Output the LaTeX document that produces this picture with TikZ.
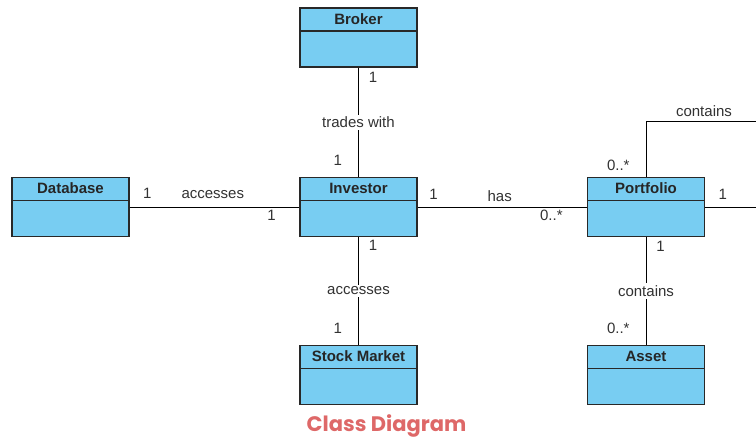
\documentclass[tikz,border=0pt]{standalone}
\usepackage{fontspec}
\setmainfont{Liberation Sans}
\newfontfamily\titlefont{Poppins}
\definecolor{clsfill}{RGB}{120,205,242}
\definecolor{clsline}{RGB}{40,40,40}
\definecolor{lbltext}{RGB}{50,50,50}
\definecolor{titlered}{RGB}{222,104,104}
\tikzset{
  cls/.style={draw=clsline, fill=clsfill, line width=1.1pt, minimum width=117,
    minimum height=59, inner sep=0pt,
    label={[anchor=center, yshift=-11.5pt, font=\fontsize{15}{15}\selectfont\bfseries, text=black!85]north:#1},
    path picture={\draw[clsline, line width=1.1pt] ([yshift=-23pt]path picture bounding box.north west) -- ++(117,0);}},
  lbl/.style={font=\fontsize{15}{15}\selectfont, text=lbltext, inner sep=2pt},
  assoc/.style={draw=black, line width=0.9pt}
}
\begin{document}
\begin{tikzpicture}[x=1pt, y=-1pt]
    \useasboundingbox (0,0) rectangle (756,443);
    \node[cls=Broker] (A0_1) at (358.5,37.5) {};
    \node[cls=Database] (A1_0) at (70.5,207) {};
    \node[cls=Investor] (A1_1) at (358.5,207) {};
    \node[cls=Portfolio] (A1_2) at (646,207) {};
    \node[cls=Stock Market] (A2_1) at (358.5,375) {};
    \node[cls=Asset] (A2_2) at (646,375) {};
    \coordinate (E1) at (756,121);
    \coordinate (E2) at (756,207);
    \path (A0_1) edge [assoc] node [lbl, fill=white] {trades with} node [lbl, pos=0.09, right=8pt] {1} node [lbl, pos=0.85, left=14pt] {1} (A1_1);
    \path (A1_0) edge [assoc] node [lbl, pos=0.49, above=6pt] {accesses} node [lbl, pos=0.105, above=6pt] {1} node [lbl, pos=0.836, below=1pt] {1} (A1_1);
    \path (A1_1) edge [assoc] node [lbl, pos=0.485, above=3pt] {has} node [lbl, pos=0.094, above=5pt] {1} node [lbl, pos=0.79, below=1pt] {0..*} (A1_2);
    \path (A1_1) edge [assoc] node [lbl, fill=white] {accesses} node [lbl, pos=0.08, right=8pt] {1} node [lbl, pos=0.85, left=14pt] {1} (A2_1);
    \path (A1_2) edge [assoc] node [lbl, fill=white, pos=0.5] {contains} node [lbl, pos=0.09, right=8pt] {1} node [lbl, pos=0.85, left=14pt] {0..*} (A2_2);
    \draw [assoc] (A1_2) |- node [lbl, pos=0.105, left=14pt] {0..*} (E1);
    \node [lbl, above=2pt] (L1) at (704,121) {contains};
    \path (A1_2) edge [assoc] node [lbl, pos=0.35, above=5pt] {1} (E2);
    \node [font=\titlefont\bfseries\fontsize{21}{21}\selectfont, text=titlered] (T) at (386.5,426) {Class Diagram};
  \end{tikzpicture}
\end{document}
